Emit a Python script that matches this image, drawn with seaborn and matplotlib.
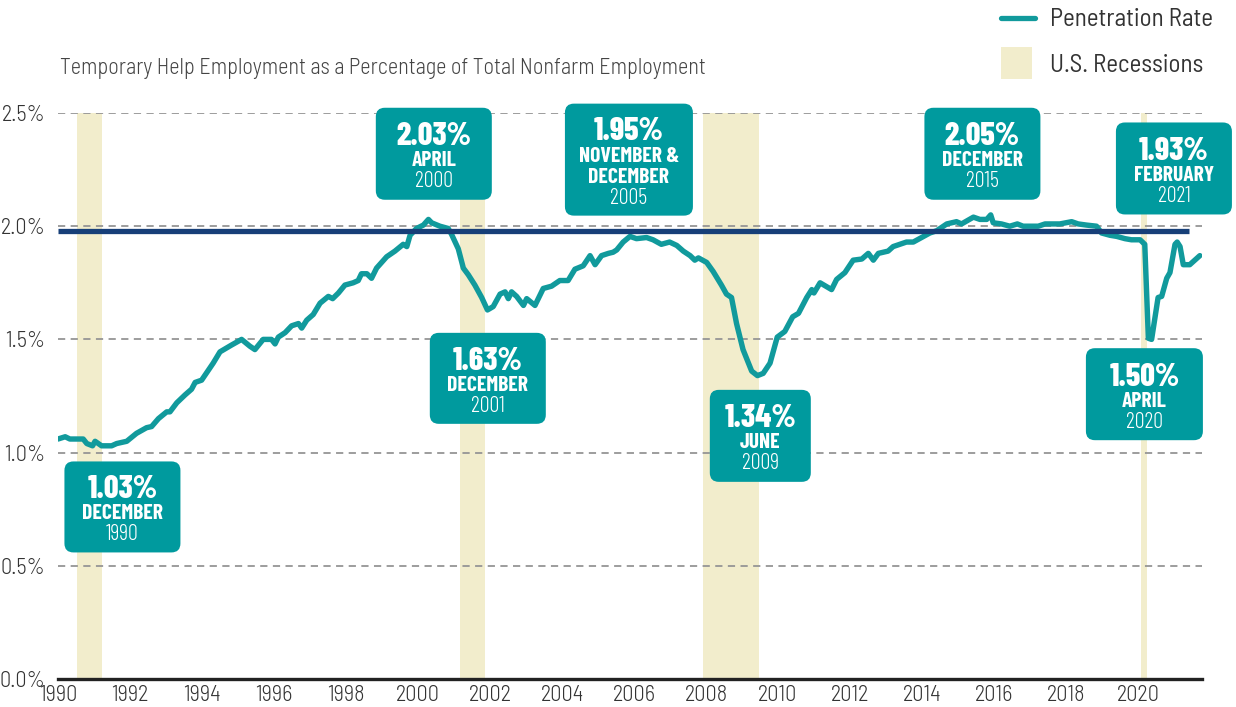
import numpy as np
import pandas as pd
import matplotlib
matplotlib.use("Agg")
import matplotlib.pyplot as plt
import matplotlib.transforms as mtransforms
from matplotlib.patches import FancyBboxPatch, Rectangle
from matplotlib.lines import Line2D
import seaborn as sns

# ---------------- data ----------------
years = [1990.00, 1990.20, 1990.33, 1990.70, 1990.80, 1990.96, 1991.03, 1991.21, 1991.49, 1991.63,
         1991.91, 1992.18, 1992.46, 1992.60, 1992.79, 1993.02, 1993.11, 1993.30, 1993.53, 1993.71,
         1993.81, 1993.99, 1994.18, 1994.31, 1994.50, 1994.82, 1995.10, 1995.33, 1995.47, 1995.70,
         1995.93, 1996.03, 1996.12, 1996.31, 1996.49, 1996.68, 1996.77, 1996.91, 1997.09, 1997.28,
         1997.51, 1997.63, 1997.79, 1997.97, 1998.20, 1998.34, 1998.43, 1998.58, 1998.71, 1998.85,
         1999.13, 1999.36, 1999.59, 1999.69, 1999.78, 1999.96, 2000.15, 2000.29, 2000.38, 2000.61,
         2000.84, 2000.93, 2001.12, 2001.26, 2001.40, 2001.58, 2001.77, 2001.93, 2002.09, 2002.28,
         2002.42, 2002.51, 2002.60, 2002.74, 2002.93, 2003.02, 2003.25, 2003.48, 2003.71, 2003.94,
         2004.17, 2004.36, 2004.59, 2004.78, 2004.92, 2005.10, 2005.29, 2005.42, 2005.52, 2005.70,
         2005.89, 2006.07, 2006.35, 2006.53, 2006.76, 2006.99, 2007.19, 2007.37, 2007.56, 2007.69,
         2007.79, 2008.02, 2008.20, 2008.43, 2008.57, 2008.71, 2008.85, 2009.03, 2009.27, 2009.43,
         2009.59, 2009.78, 2009.98, 2010.19, 2010.41, 2010.57, 2010.80, 2010.94, 2011.00, 2011.17,
         2011.49, 2011.63, 2011.86, 2012.09, 2012.33, 2012.51, 2012.65, 2012.79, 2013.06, 2013.20,
         2013.57, 2013.76, 2013.99, 2014.22, 2014.41, 2014.69, 2014.96, 2015.10, 2015.43, 2015.61,
         2015.80, 2015.91, 2015.98, 2016.21, 2016.44, 2016.65, 2016.81, 2017.05, 2017.23, 2017.42,
         2017.83, 2018.16, 2018.34, 2018.57, 2018.85, 2018.99, 2019.22, 2019.41, 2019.64, 2019.82,
         2020.06, 2020.19, 2020.29, 2020.38, 2020.56, 2020.66, 2020.80, 2020.89, 2021.03, 2021.09,
         2021.17, 2021.26, 2021.44, 2021.58, 2021.72]
rates = [1.06, 1.07, 1.06, 1.06, 1.04, 1.03, 1.05, 1.03, 1.03, 1.04,
         1.05, 1.085, 1.11, 1.115, 1.15, 1.18, 1.18, 1.22, 1.255, 1.28,
         1.31, 1.32, 1.365, 1.395, 1.445, 1.475, 1.50, 1.47, 1.455, 1.50,
         1.50, 1.48, 1.51, 1.53, 1.56, 1.57, 1.55, 1.585, 1.61, 1.66,
         1.69, 1.68, 1.705, 1.74, 1.75, 1.76, 1.79, 1.79, 1.77, 1.815,
         1.865, 1.89, 1.92, 1.91, 1.96, 1.99, 2.005, 2.03, 2.015, 2.00,
         1.99, 1.965, 1.90, 1.815, 1.785, 1.74, 1.685, 1.63, 1.645, 1.70,
         1.71, 1.68, 1.71, 1.69, 1.65, 1.68, 1.65, 1.725, 1.735, 1.76,
         1.76, 1.81, 1.825, 1.87, 1.83, 1.87, 1.88, 1.885, 1.895, 1.93,
         1.955, 1.945, 1.95, 1.94, 1.92, 1.93, 1.915, 1.89, 1.87, 1.85,
         1.86, 1.84, 1.80, 1.74, 1.70, 1.685, 1.57, 1.455, 1.36, 1.34,
         1.35, 1.395, 1.51, 1.535, 1.60, 1.615, 1.685, 1.72, 1.705, 1.75,
         1.72, 1.765, 1.795, 1.85, 1.855, 1.88, 1.85, 1.88, 1.89, 1.91,
         1.93, 1.93, 1.95, 1.97, 1.98, 2.01, 2.02, 2.01, 2.04, 2.03,
         2.03, 2.05, 2.015, 2.01, 2.00, 2.01, 2.00, 2.00, 2.00, 2.01,
         2.01, 2.02, 2.01, 2.005, 2.00, 1.97, 1.96, 1.955, 1.945, 1.94,
         1.94, 1.92, 1.505, 1.50, 1.685, 1.69, 1.77, 1.795, 1.92, 1.93,
         1.91, 1.83, 1.83, 1.85, 1.87]

recession_starts = [1990.54, 2001.17, 2007.92, 2020.08]
recession_ends = [1991.21, 2001.86, 2009.46, 2020.25]

reference_level = 1.98
reference_end = 2021.42

y_ticks = [0.0, 0.5, 1.0, 1.5, 2.0, 2.5]
x_ticks = list(range(1990, 2021, 2))

ann_values = ["1.03%", "2.03%", "1.63%", "1.95%", "1.34%", "2.05%", "1.93%", "1.50%"]
ann_months = [["DECEMBER"], ["APRIL"], ["DECEMBER"], ["NOVEMBER &", "DECEMBER"],
              ["JUNE"], ["DECEMBER"], ["FEBRUARY"], ["APRIL"]]
ann_years = ["1990", "2000", "2001", "2005", "2009", "2015", "2021", "2020"]

# annotation box layout (centre in data coords, size in pixels)
ann_cx = [1991.79, 2000.44, 2001.94, 2005.86, 2009.51, 2015.68, 2021.00, 2020.18]
ann_cy = [0.760, 2.320, 1.328, 2.294, 1.074, 2.320, 2.255, 1.258]
ann_w = [116, 116, 116, 128, 101, 116, 116, 117]
ann_h = [91, 92, 91, 112, 92, 92, 92, 92]

# ---------------- style ----------------
W, H, DPI = 1236, 707, 100
TEAL = "#119a9c"
BOX = "#009a9e"
NAVY = "#173f78"
RECESS = "#f2edcc"
GRID = "#959595"
TXT = "#333333"

sns.set_theme(style="white")
LIGHT = ["Barlow Semi Condensed", "Liberation Sans", "DejaVu Sans"]
COND = ["Barlow Condensed", "Liberation Sans", "DejaVu Sans"]
plt.rcParams["font.family"] = LIGHT

df = pd.DataFrame({"year": years, "rate": rates})

fig = plt.figure(figsize=(W / DPI, H / DPI), dpi=DPI)
fig.patch.set_facecolor("white")
ax = fig.add_axes([58 / W, 28 / H, (1202 - 58) / W, (679 - 113) / H])
ax.set_facecolor("white")

for s, e in zip(recession_starts, recession_ends):
    ax.axvspan(s, e, ymin=0, ymax=1, color=RECESS, lw=0, zorder=0)

sns.lineplot(data=df, x="year", y="rate", ax=ax, color=TEAL, linewidth=3.9,
             sort=False, estimator=None, zorder=3, solid_joinstyle="round")

ax.hlines(reference_level, years[0], reference_end, color=NAVY, linewidth=3.8, zorder=4)

ax.set_xlim(1990, 2021.78)
ax.set_ylim(0, 2.5)
ax.set_yticks(y_ticks)
ax.set_yticklabels([f"{v:.1f}%" for v in y_ticks])
ax.set_xticks(x_ticks)
ax.set_xticklabels([str(v) for v in x_ticks])
ax.set_xlabel("")
ax.set_ylabel("")
ax.yaxis.grid(True, linestyle=(0, (4, 3)), color=GRID, linewidth=1.3, zorder=1)
ax.xaxis.grid(False)
ax.set_axisbelow(True)
for sp in ["top", "right", "left"]:
    ax.spines[sp].set_visible(False)
ax.spines["bottom"].set_color("#222222")
ax.spines["bottom"].set_linewidth(2.4)
ax.spines["bottom"].set_zorder(5)
ax.tick_params(axis="both", length=0, labelsize=16, colors=TXT)
ax.tick_params(axis="y", pad=9)
ax.tick_params(axis="x", pad=4)
for lab in ax.get_xticklabels() + ax.get_yticklabels():
    lab.set_fontweight(300)

# annotation boxes
for val, months, yr, cx, cy, w, h in zip(ann_values, ann_months, ann_years,
                                         ann_cx, ann_cy, ann_w, ann_h):
    trans = fig.dpi_scale_trans + mtransforms.ScaledTranslation(cx, cy, ax.transData)
    wi, hi = w / DPI, h / DPI
    patch = FancyBboxPatch((-wi / 2, -hi / 2), wi, hi,
                           boxstyle="round,pad=0,rounding_size=0.09",
                           transform=trans, facecolor=BOX, edgecolor="none",
                           clip_on=False, zorder=6)
    ax.add_patch(patch)
    if len(months) == 1:
        offs = [6.1, -9.0, -24.1]
    else:
        offs = [14.4, -1.4, -16.6, -31.7]
    lines = [val] + months + [yr]
    for i, (txt, dy) in enumerate(zip(lines, offs)):
        if i == 0:
            kw = dict(fontsize=23, fontweight=800)
        elif i == len(lines) - 1:
            kw = dict(fontsize=16, fontweight=300)
        else:
            kw = dict(fontsize=15.5, fontweight=700)
        ax.annotate(txt, xy=(cx, cy), xytext=(0, dy), textcoords="offset points",
                    ha="center", va="baseline", color="white", family=COND,
                    annotation_clip=False, zorder=7, **kw)

# title
fig.text(60 / W, 1 - 74 / H,
         "Temporary Help Employment as a Percentage of Total Nonfarm Employment",
         ha="left", va="baseline", fontsize=16, fontweight=300, color="#444444")

# legend (manual)
fig.add_artist(Line2D([1001 / W, 1035 / W], [1 - 18 / H, 1 - 18 / H],
                      color=TEAL, linewidth=3.8, solid_capstyle="round"))
fig.add_artist(Rectangle((1001 / W, 1 - 79 / H), 31 / W, 32 / H,
                         facecolor=RECESS, edgecolor="none"))
fig.text(1050 / W, 1 - 26 / H, "Penetration Rate", ha="left", va="baseline",
         fontsize=18, fontweight=400, color="#333333")
fig.text(1050 / W, 1 - 72 / H, "U.S. Recessions", ha="left", va="baseline",
         fontsize=18, fontweight=400, color="#333333")

fig.savefig("out.png", dpi=DPI, facecolor="white")
